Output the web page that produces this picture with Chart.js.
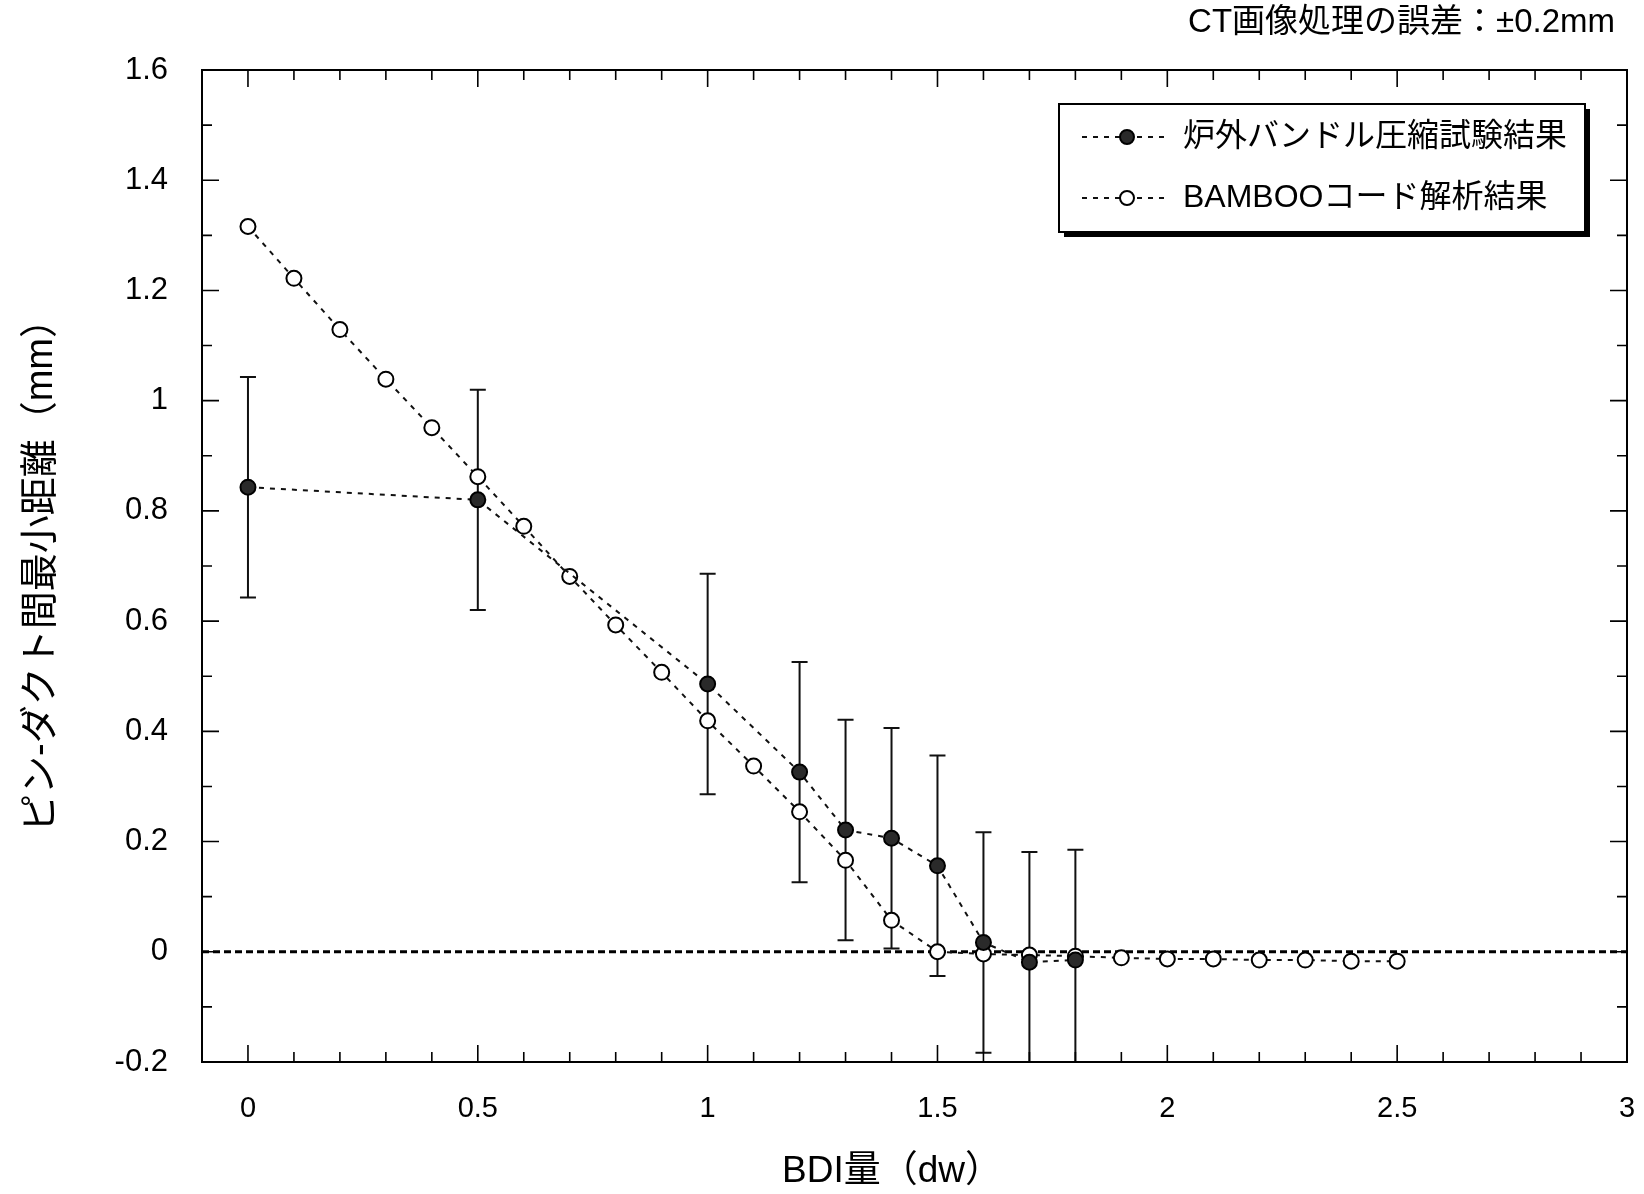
<!DOCTYPE html>
<html><head><meta charset="utf-8">
<script src="https://cdn.jsdelivr.net/npm/chart.js@4/dist/chart.umd.min.js"></script>
<style>html,body{margin:0;padding:0;background:#fff;}#wrap{position:relative;width:1644px;height:1194px;}</style>
</head><body><div id="wrap"><canvas id="c" width="1644" height="1194"></canvas></div>
<script>
// ---- data ----
const bambooX = [0,0.1,0.2,0.3,0.4,0.5,0.6,0.7,0.8,0.9,1.0,1.1,1.2,1.3,1.4,1.5,1.6,1.7,1.8,1.9,2.0,2.1,2.2,2.3,2.4,2.5];
const bambooY = [1.316,1.222,1.129,1.039,0.951,0.862,0.772,0.681,0.593,0.507,0.419,0.337,0.254,0.166,0.057,0.0,-0.004,-0.006,-0.008,-0.011,-0.013,-0.013,-0.015,-0.015,-0.017,-0.017];
const testX = [0,0.5,1.0,1.2,1.3,1.4,1.5,1.6,1.7,1.8];
const testY = [0.843,0.820,0.486,0.326,0.221,0.206,0.156,0.017,-0.019,-0.015];
const testErr = [0.2,0.2,0.2,0.2,0.2,0.2,0.2,0.2,0.2,0.2];
const zeroX = [-0.1,3];
const zeroY = [0,0];
const xTickValues = [0,0.5,1,1.5,2,2.5,3];
const xTickLabels = ['0','0.5','1','1.5','2','2.5','3'];
const yTickValues = [-0.2,0,0.2,0.4,0.6,0.8,1,1.2,1.4,1.6];
const yTickLabels = ['-0.2','0','0.2','0.4','0.6','0.8','1','1.2','1.4','1.6'];
const seriesNames = ['炉外バンドル圧縮試験結果','BAMBOOコード解析結果'];
const xTitle = 'BDI量（dw）';
const yTitle = 'ピン-ダクト間最小距離（mm）';
const noteText = 'CT画像処理の誤差：±0.2mm';

const FONT = "'Liberation Sans','Noto Sans CJK JP',sans-serif";
const toPts = (xs, ys) => xs.map((x, i) => ({x: x, y: ys[i]}));

const decor = {
  id: 'decor',
  beforeDatasetsDraw(chart) {
    const {ctx, chartArea: a, scales: {x, y}} = chart;
    ctx.save();
    ctx.beginPath(); ctx.rect(a.left, a.top, a.right - a.left, a.bottom - a.top); ctx.clip();
    ctx.strokeStyle = '#111'; ctx.lineWidth = 2;
    testX.forEach((xv, i) => {
      const px = x.getPixelForValue(xv);
      const top = y.getPixelForValue(testY[i] + testErr[i]);
      const bot = y.getPixelForValue(testY[i] - testErr[i]);
      ctx.beginPath();
      ctx.moveTo(px, top); ctx.lineTo(px, bot);
      ctx.moveTo(px - 8, top); ctx.lineTo(px + 8, top);
      ctx.moveTo(px - 8, bot); ctx.lineTo(px + 8, bot);
      ctx.stroke();
    });
    ctx.restore();
  },
  afterDraw(chart) {
    const {ctx, chartArea: a, scales: {x, y}} = chart;
    ctx.save();
    ctx.strokeStyle = '#000'; ctx.lineWidth = 2;
    ctx.strokeRect(a.left, a.top, a.right - a.left, a.bottom - a.top);
    ctx.lineWidth = 1.6;
    ctx.beginPath();
    for (let i = -1; i <= 30; i++) {
      const px = x.getPixelForValue(i / 10);
      const len = (i % 5 === 0) ? 17 : 10;
      ctx.moveTo(px, a.bottom); ctx.lineTo(px, a.bottom - len);
      ctx.moveTo(px, a.top); ctx.lineTo(px, a.top + len);
    }
    for (let i = -2; i <= 16; i++) {
      const py = y.getPixelForValue(i / 10);
      const len = (i % 2 === 0) ? 17 : 10;
      ctx.moveTo(a.left, py); ctx.lineTo(a.left + len, py);
      ctx.moveTo(a.right, py); ctx.lineTo(a.right - len, py);
    }
    ctx.stroke();

    ctx.fillStyle = '#000';
    ctx.textBaseline = 'middle';
    // axis titles
    ctx.font = '37px ' + FONT;
    ctx.textAlign = 'center';
    ctx.fillText(xTitle, 892, 1172);
    ctx.save();
    ctx.translate(42, 566); ctx.rotate(-Math.PI / 2);
    ctx.font = '38px ' + FONT;
    ctx.fillText(yTitle, 0, 0);
    ctx.restore();
    // note
    ctx.font = '33px ' + FONT;
    ctx.textAlign = 'right';
    ctx.fillText(noteText, 1615, 23);

    // legend
    const lx = 1059, ly = 104, lw = 526, lh = 128;
    ctx.fillStyle = '#000';
    ctx.fillRect(lx + 5, ly + 5, lw, lh);
    ctx.fillStyle = '#fff';
    ctx.fillRect(lx, ly, lw, lh);
    ctx.strokeStyle = '#000'; ctx.lineWidth = 2;
    ctx.strokeRect(lx, ly, lw, lh);
    const rows = [137, 198];
    rows.forEach((ry, k) => {
      ctx.save();
      ctx.setLineDash([5, 6]); ctx.lineWidth = 2; ctx.strokeStyle = '#111';
      ctx.beginPath(); ctx.moveTo(1082, ry); ctx.lineTo(1170, ry); ctx.stroke();
      ctx.restore();
      ctx.beginPath(); ctx.arc(1127, ry, 7, 0, Math.PI * 2);
      ctx.fillStyle = k === 0 ? '#2a2a2a' : '#fff';
      ctx.fill(); ctx.lineWidth = 2; ctx.strokeStyle = '#000'; ctx.stroke();
      ctx.fillStyle = '#000';
      ctx.font = '32px ' + FONT;
      ctx.textAlign = 'left';
      ctx.fillText(seriesNames[k], 1183, ry);
    });
    ctx.restore();
  }
};

new Chart(document.getElementById('c'), {
  type: 'scatter',
  data: {
    datasets: [
      {
        label: seriesNames[0],
        data: toPts(testX, testY),
        showLine: true,
        borderColor: '#111', borderWidth: 2, borderDash: [5, 6],
        pointRadius: 7.5, pointBorderWidth: 2,
        pointBackgroundColor: '#2a2a2a', pointBorderColor: '#000',
        order: 0
      },
      {
        label: seriesNames[1],
        data: toPts(bambooX, bambooY),
        showLine: true,
        borderColor: '#111', borderWidth: 2, borderDash: [5, 6],
        pointRadius: 7.5, pointBorderWidth: 2,
        pointBackgroundColor: '#fff', pointBorderColor: '#000',
        order: 1
      },
      {
        label: 'zero',
        data: toPts(zeroX, zeroY),
        showLine: true,
        borderColor: '#000', borderWidth: 3, borderDash: [7, 4],
        pointRadius: 0,
        order: 2
      }
    ]
  },
  options: {
    responsive: false,
    animation: false,
    layout: {padding: {top: 70, right: 17, left: 0, bottom: 0}},
    plugins: {legend: {display: false}, tooltip: {enabled: false}},
    scales: {
      x: {
        type: 'linear', min: -0.1, max: 3,
        afterBuildTicks: s => { s.ticks = xTickValues.map(v => ({value: v})); },
        afterFit: s => { s.height = 132; s.paddingLeft = 0; s.paddingRight = 0; },
        grid: {display: false, drawTicks: false},
        border: {display: false},
        ticks: {
          padding: 30, color: '#000', maxRotation: 0, autoSkip: false,
          font: {family: FONT, size: 29},
          callback: v => xTickLabels[xTickValues.indexOf(v)]
        }
      },
      y: {
        type: 'linear', min: -0.2, max: 1.6,
        afterBuildTicks: s => { s.ticks = yTickValues.map(v => ({value: v})); },
        afterFit: s => { s.width = 202; s.paddingTop = 0; s.paddingBottom = 0; },
        grid: {display: false, drawTicks: false},
        border: {display: false},
        ticks: {
          padding: 34, color: '#000', autoSkip: false,
          font: {family: FONT, size: 31},
          callback: v => yTickLabels[yTickValues.indexOf(v)]
        }
      }
    }
  },
  plugins: [decor]
});
</script></body></html>
